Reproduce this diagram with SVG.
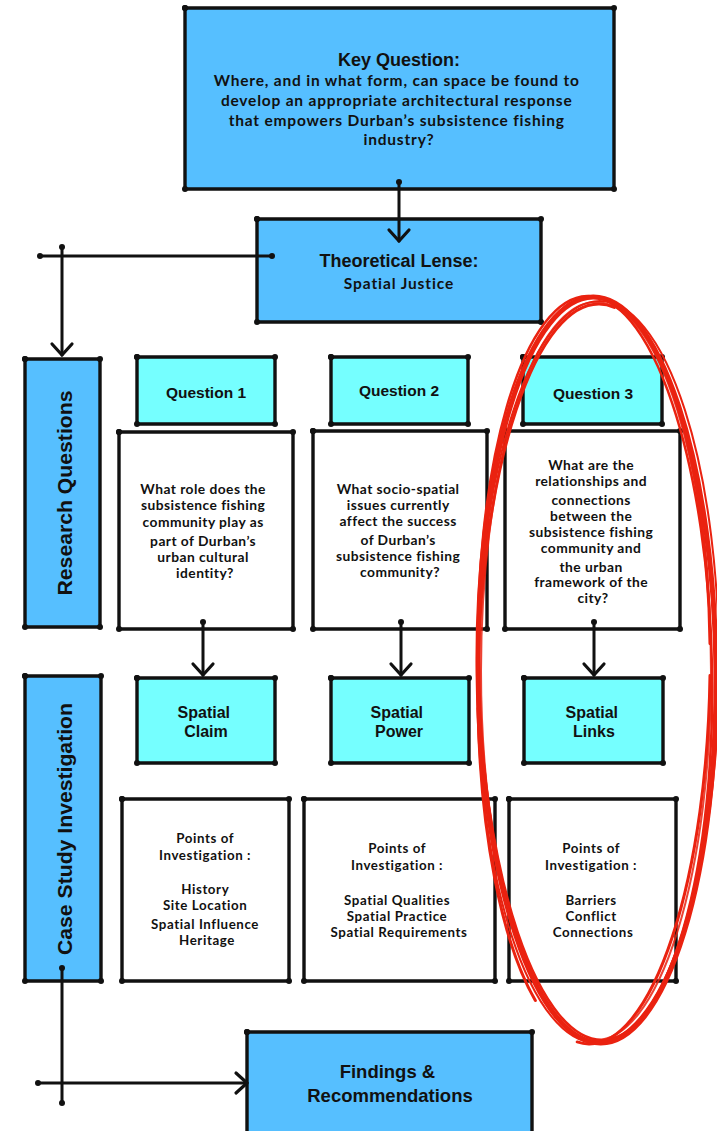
<svg xmlns="http://www.w3.org/2000/svg" width="717" height="1131" viewBox="0 0 717 1131">
  <defs>
    <marker id="dot" markerUnits="userSpaceOnUse" markerWidth="10" markerHeight="10" viewBox="-5 -5 10 10" refX="0" refY="0" overflow="visible">
      <circle r="3" fill="#111"/>
    </marker>
    <marker id="chev" markerUnits="userSpaceOnUse" markerWidth="30" markerHeight="30" viewBox="-15 -15 30 30" refX="0" refY="0" orient="auto" overflow="visible">
      <path d="M-11,-10 L0,0 L-11,10" fill="none" stroke="#111" stroke-width="3.2" stroke-linecap="round" stroke-linejoin="round"/>
    </marker>
    <style>
      .box { stroke: #111; stroke-width: 3.4; stroke-linejoin: round; marker: url(#dot); }
      .blue { fill: #56bfff; }
      .cyan { fill: #75ffff; }
      .white { fill: #ffffff; }
      .head { font-family: "Liberation Sans", Arial, sans-serif; font-weight: bold; fill: #111; text-anchor: middle; }
      .body { font-family: Lato, "Liberation Sans", sans-serif; font-weight: bold; fill: #111; text-anchor: middle; }
      .wire { fill: none; stroke: #111; stroke-width: 3; stroke-linecap: round; }
      .ring { fill: none; stroke: #ea2210; stroke-linecap: round; }
    </style>
  </defs>

  <!-- top level question -->
  <g id="key-question">
    <path class="box blue" d="M185,8 H614 V189 H185 Z"/>
    <text class="head" x="399" y="66" font-size="18">Key Question:</text>
    <text class="body" font-size="15.5" letter-spacing="0.8">
      <tspan x="399" y="86">Where, and in what form, can space be found to</tspan>
      <tspan x="399" y="106">develop an appropriate architectural response</tspan>
      <tspan x="399" y="126">that empowers Durban’s subsistence fishing</tspan>
      <tspan x="399" y="145">industry?</tspan>
    </text>
  </g>

  <g id="theoretical-lense">
    <path class="box blue" d="M257,219 H541 V322 H257 Z"/>
    <text class="head" x="399" y="267" font-size="18">Theoretical Lense:</text>
    <text class="body" x="399" y="289" font-size="15.5" letter-spacing="0.9">Spatial Justice</text>
  </g>

  <!-- row labels -->
  <g id="research-questions">
    <path class="box blue" d="M25,359 H100 V627 H25 Z"/>
    <text class="head" transform="translate(72,493) rotate(-90)" font-size="21" textLength="205" lengthAdjust="spacingAndGlyphs">Research Questions</text>
  </g>

  <g id="case-study">
    <path class="box blue" d="M25,676 H101 V981 H25 Z"/>
    <text class="head" transform="translate(72,829) rotate(-90)" font-size="21" textLength="252" lengthAdjust="spacingAndGlyphs">Case Study Investigation</text>
  </g>

  <!-- question headers -->
  <g id="question-1">
    <path class="box cyan" d="M137,357 H275 V424 H137 Z"/>
    <text class="head" x="206" y="398" font-size="15.5">Question 1</text>
  </g>
  <g id="question-2">
    <path class="box cyan" d="M331,357 H468 V424 H331 Z"/>
    <text class="head" x="399" y="396" font-size="15.5">Question 2</text>
  </g>
  <g id="question-3">
    <path class="box cyan" d="M523,357 H662 V424 H523 Z"/>
    <text class="head" x="593" y="399" font-size="15.5">Question 3</text>
  </g>

  <!-- question texts -->
  <g id="question-1-text">
    <path class="box white" d="M119,432 H293 V629 H119 Z"/>
    <text class="body" font-size="13.8" letter-spacing="0.45">
      <tspan x="205" y="494">What role does the</tspan>
      <tspan x="205" y="510">subsistence fishing</tspan>
      <tspan x="205" y="527">community play as</tspan>
      <tspan x="205" y="546">part of Durban’s</tspan>
      <tspan x="205" y="562">urban cultural</tspan>
      <tspan x="205" y="578">identity?</tspan>
    </text>
  </g>
  <g id="question-2-text">
    <path class="box white" d="M313,431 H487 V629 H313 Z"/>
    <text class="body" font-size="13.8" letter-spacing="0.45">
      <tspan x="400" y="494">What socio-spatial</tspan>
      <tspan x="400" y="510">issues currently</tspan>
      <tspan x="400" y="526">affect the success</tspan>
      <tspan x="400" y="545">of Durban’s</tspan>
      <tspan x="400" y="561">subsistence fishing</tspan>
      <tspan x="400" y="577">community?</tspan>
    </text>
  </g>
  <g id="question-3-text">
    <path class="box white" d="M505,431 H680 V629 H505 Z"/>
    <text class="body" font-size="13.8" letter-spacing="0.45">
      <tspan x="593" y="470">What are the</tspan>
      <tspan x="593" y="486">relationships and</tspan>
      <tspan x="593" y="505">connections</tspan>
      <tspan x="593" y="521">between the</tspan>
      <tspan x="593" y="537">subsistence fishing</tspan>
      <tspan x="593" y="553">community and</tspan>
      <tspan x="593" y="572">the urban</tspan>
      <tspan x="593" y="587">framework of the</tspan>
      <tspan x="593" y="603">city?</tspan>
    </text>
  </g>

  <!-- themes -->
  <g id="spatial-claim">
    <path class="box cyan" d="M137,678 H275 V763 H137 Z"/>
    <text class="head" font-size="16">
      <tspan x="206" y="718">Spatial</tspan>
      <tspan x="206" y="737">Claim</tspan>
    </text>
  </g>
  <g id="spatial-power">
    <path class="box cyan" d="M331,678 H469 V763 H331 Z"/>
    <text class="head" font-size="16">
      <tspan x="399" y="718">Spatial</tspan>
      <tspan x="399" y="737">Power</tspan>
    </text>
  </g>
  <g id="spatial-links">
    <path class="box cyan" d="M524,678 H663 V763 H524 Z"/>
    <text class="head" font-size="16">
      <tspan x="594" y="718">Spatial</tspan>
      <tspan x="594" y="737">Links</tspan>
    </text>
  </g>

  <!-- points of investigation -->
  <g id="points-claim">
    <path class="box white" d="M122,799 H289 V981 H122 Z"/>
    <text class="body" font-size="13.3" letter-spacing="0.6">
      <tspan x="207" y="843">Points of</tspan>
      <tspan x="207" y="860">Investigation :</tspan>
      <tspan x="207" y="894">History</tspan>
      <tspan x="207" y="910">Site Location</tspan>
      <tspan x="207" y="929">Spatial Influence</tspan>
      <tspan x="207" y="945">Heritage</tspan>
    </text>
  </g>
  <g id="points-power">
    <path class="box white" d="M304,799 H495 V981 H304 Z"/>
    <text class="body" font-size="13.3" letter-spacing="0.6">
      <tspan x="399" y="853">Points of</tspan>
      <tspan x="399" y="870">Investigation :</tspan>
      <tspan x="399" y="905">Spatial Qualities</tspan>
      <tspan x="399" y="921">Spatial Practice</tspan>
      <tspan x="399" y="937">Spatial Requirements</tspan>
    </text>
  </g>
  <g id="points-links">
    <path class="box white" d="M509,799 H676 V981 H509 Z"/>
    <text class="body" font-size="13.3" letter-spacing="0.6">
      <tspan x="593" y="853">Points of</tspan>
      <tspan x="593" y="870">Investigation :</tspan>
      <tspan x="593" y="905">Barriers</tspan>
      <tspan x="593" y="921">Conflict</tspan>
      <tspan x="593" y="937">Connections</tspan>
    </text>
  </g>

  <g id="findings">
    <path class="box blue" d="M247,1032 H532 V1140 H247 Z"/>
    <text class="head" font-size="18.5">
      <tspan x="390" y="1078">Findings &amp;</tspan>
      <tspan x="390" y="1102">Recommendations</tspan>
    </text>
  </g>

  <!-- connectors -->
  <g id="connectors">
    <path class="wire" d="M399,182 V241" marker-start="url(#dot)" marker-end="url(#chev)"/>
    <path class="wire" d="M40,256 H272" marker-start="url(#dot)" marker-end="url(#dot)"/>
    <path class="wire" d="M62,247 V355" marker-start="url(#dot)" marker-end="url(#chev)"/>
    <path class="wire" d="M203,622 V675" marker-start="url(#dot)" marker-end="url(#chev)"/>
    <path class="wire" d="M401,622 V675" marker-start="url(#dot)" marker-end="url(#chev)"/>
    <path class="wire" d="M594,622 V675" marker-start="url(#dot)" marker-end="url(#chev)"/>
    <path class="wire" d="M62,968 V1103" marker-start="url(#dot)" marker-end="url(#dot)"/>
    <path class="wire" d="M38,1083 H247" marker-start="url(#dot)" marker-end="url(#chev)"/>
  </g>

  <!-- hand-drawn red ring around the third column -->
  <g id="ring">
    <ellipse class="ring" cx="597" cy="670" rx="119" ry="373" stroke-width="5" transform="rotate(-0.6 597 670)"/>
    <ellipse class="ring" cx="595" cy="668" rx="117" ry="372" stroke-width="2.5" transform="rotate(-1.2 595 668)"/>
    <ellipse class="ring" cx="598" cy="672" rx="121" ry="371" stroke-width="2" transform="rotate(0.3 598 672)"/>
    <ellipse class="ring" cx="596" cy="671" rx="115" ry="369" stroke-width="2" stroke-opacity="0.85"/>
    <ellipse class="ring" cx="594" cy="674" rx="116" ry="370" stroke-width="3" stroke-dasharray="420 60 300 40" transform="rotate(0.8 594 674)"/>
  </g>
</svg>
